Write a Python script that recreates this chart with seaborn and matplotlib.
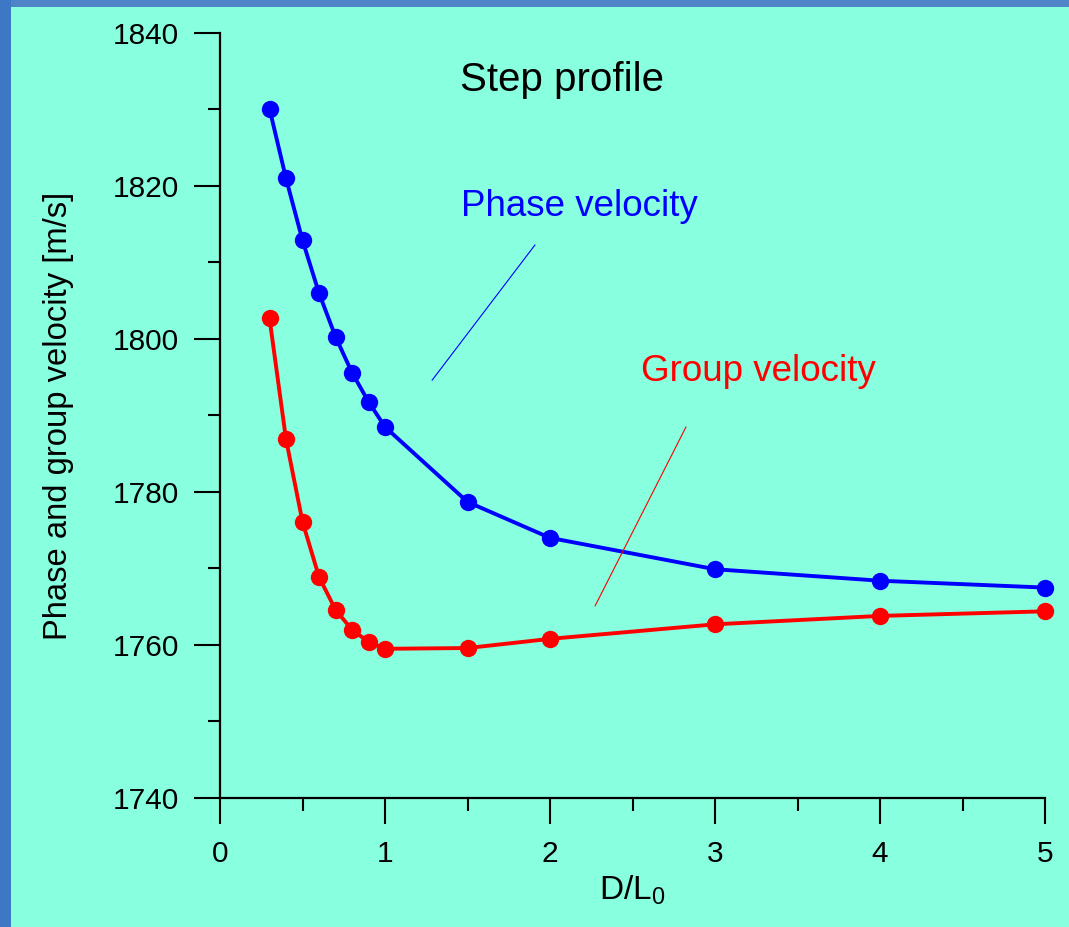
import pandas as pd
import matplotlib.pyplot as plt
import seaborn as sns
from matplotlib.patches import Rectangle
from matplotlib.ticker import MultipleLocator

# Values
d_over_l0 = [0.3, 0.4, 0.5, 0.6, 0.7, 0.8, 0.9, 1.0, 1.5, 2, 3, 4, 5]
phase_velocity = [1830.1, 1821.0, 1812.9, 1806.0, 1800.3, 1795.6, 1791.8,
                  1788.5, 1778.7, 1774.0, 1769.9, 1768.4, 1767.5]
group_velocity = [1802.7, 1786.9, 1776.1, 1768.9, 1764.6, 1762.0, 1760.4,
                  1759.5, 1759.6, 1760.8, 1762.7, 1763.8, 1764.4]

bg = "#88FFDE"

sns.set_theme(style="ticks")
plt.rcParams['font.family'] = ['Liberation Sans', 'DejaVu Sans']
plt.rcParams['mathtext.default'] = 'regular'

df = pd.DataFrame({
    "x": d_over_l0 * 2,
    "v": phase_velocity + group_velocity,
    "series": ["Phase velocity"] * len(d_over_l0) + ["Group velocity"] * len(d_over_l0),
})

fig = plt.figure(figsize=(10.69, 9.27), dpi=100, facecolor=bg)
ax = fig.add_axes([0.2058, 0.1392, 0.7718, 0.8252])
ax.set_facecolor(bg)

sns.lineplot(data=df, x="x", y="v", hue="series",
             palette={"Phase velocity": "#0000FF", "Group velocity": "#FF0000"},
             marker="o", markersize=12.5, markeredgewidth=0, linewidth=2.8,
             legend=False, ax=ax, clip_on=False)

ax.set_xlim(0, 5)
ax.set_ylim(1740, 1840)
ax.xaxis.set_major_locator(MultipleLocator(1))
ax.xaxis.set_minor_locator(MultipleLocator(0.5))
ax.yaxis.set_major_locator(MultipleLocator(20))
ax.yaxis.set_minor_locator(MultipleLocator(10))
ax.tick_params(which="major", length=18.5, width=1.5, labelsize=21.5, color="black",
               labelcolor="black")
ax.tick_params(axis="x", which="major", pad=12)
ax.tick_params(axis="y", which="major", pad=11)
ax.tick_params(which="minor", length=9, width=1.5, color="black")
for side in ["top", "right"]:
    ax.spines[side].set_visible(False)
for side in ["left", "bottom"]:
    ax.spines[side].set_color("black")
    ax.spines[side].set_linewidth(1.6)

ax.set_xlabel("D/L$_{0}$", fontsize=24, labelpad=4, color="black")
ax.set_ylabel("Phase and group velocity [m/s]", fontsize=23.6, labelpad=28, color="black")

ax.text(2.07, 1833.9, "Step profile", fontsize=29, color="black", ha="center", va="center")
ax.text(2.18, 1817.3, "Phase velocity", fontsize=26.5, color="#0000FF", ha="center", va="center")
ax.text(3.26, 1795.8, "Group velocity", fontsize=26.5, color="#FF0000", ha="center", va="center")
ax.plot([1.909, 1.285], [1812.3, 1794.6], color="#0000FF", linewidth=0.8)
ax.plot([2.824, 2.273], [1788.5, 1765.1], color="#FF0000", linewidth=0.8)

# blue slide frame on top and left edges
fig.patches.append(Rectangle((0, 1 - 7 / 927), 1, 7 / 927, transform=fig.transFigure,
                             facecolor="#4F84C8", edgecolor="none", zorder=0))
fig.patches.append(Rectangle((0, 0), 11 / 1069, 1, transform=fig.transFigure,
                             facecolor="#3C78C4", edgecolor="none", zorder=0))

fig.savefig("out.png", dpi=100, facecolor=bg)
